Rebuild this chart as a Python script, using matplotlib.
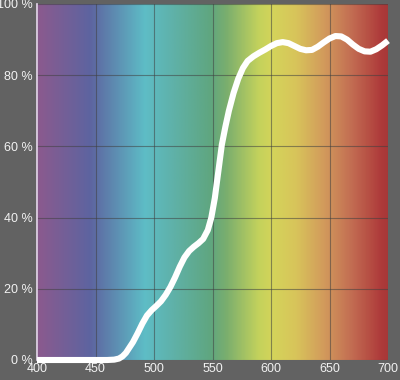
import numpy as np
import matplotlib
matplotlib.use("Agg")
import matplotlib.pyplot as plt
from matplotlib.colors import LinearSegmentedColormap

# Transmission curve (wavelength nm, percent)
wavelength = [400, 430, 460, 466, 470, 473, 476, 479, 482, 486, 490, 494, 498,
              502, 506, 510, 514, 518, 522, 526, 530, 534, 538, 542, 546, 549,
              552, 555, 558, 561, 564, 568, 572, 576, 580, 585, 590, 595, 600,
              605, 610, 615, 620, 625, 630, 635, 640, 645, 650, 655, 660, 665,
              670, 675, 680, 685, 690, 695, 700]
transmission = [0, 0, 0, 0.1, 0.4, 1, 2, 3.5, 5, 7.5, 10.2, 12.5, 14,
                15.2, 16.5, 18.3, 20.5, 23.2, 26.2, 28.8, 30.6, 31.8, 32.8, 34, 36.5, 40,
                45.5, 53, 60.5, 65.5, 70, 75, 79, 82, 84, 85.3, 86.3, 87.2, 88.2,
                89, 89.3, 89, 88.2, 87.4, 87, 87.1, 88, 89.2, 90.3, 91, 90.9, 90,
                88.6, 87.4, 86.7, 86.6, 87.3, 88.4, 89.7]

xticks = [400, 450, 500, 550, 600, 650, 700]
yticks = [0, 20, 40, 60, 80, 100]
ytick_labels = ["0 %", "20 %", "40 %", "60 %", "80 %", "100 %"]

# Spectrum colour stops (nm, colour)
spec_nm = [400, 445, 492, 512, 548, 562, 590, 602, 622, 646, 670, 695, 700]
spec_col = ["#8b5a8e", "#5d64a0", "#5ebdc6", "#5fb3ae", "#5fa680", "#7aae6e",
            "#c4d25c", "#d4d45a", "#d8c45a", "#d29a5c", "#c26c52", "#ae3a3a",
            "#a83838"]

bg = "#626262"
fig = plt.figure(figsize=(4.0, 3.8), dpi=100, facecolor=bg)
ax = fig.add_axes([37/400, 20/380, 351/400, 356/380])
ax.set_facecolor(bg)

stops = [(n - 400) / 300 for n in spec_nm]
cmap = LinearSegmentedColormap.from_list("spec", list(zip(stops, spec_col)))
grad = np.linspace(0, 1, 600)[None, :]
ax.imshow(grad, extent=[400, 700, 0, 100], aspect="auto", cmap=cmap,
          origin="lower", interpolation="bilinear", zorder=0)

ax.set_xlim(400, 700)
ax.set_ylim(0, 100)
ax.set_xticks(xticks)
ax.set_yticks(yticks)
ax.set_yticklabels(ytick_labels)
ax.grid(True, color="#404040", alpha=0.55, linewidth=0.8, zorder=1)

ax.plot(wavelength, transmission, color="white", linewidth=4.4,
        solid_joinstyle="round", solid_capstyle="butt", zorder=3, clip_on=False)

for s in ["top", "right", "bottom"]:
    ax.spines[s].set_visible(False)
ax.spines["left"].set_color("#e8d8ee")
ax.spines["left"].set_linewidth(1.2)

ax.tick_params(length=0, colors="#f2f2f2", labelsize=9, pad=3)
for lbl in ax.get_xticklabels() + ax.get_yticklabels():
    lbl.set_family(["Liberation Sans", "DejaVu Sans"])
ax.tick_params(axis="x", pad=2)

fig.savefig("out.png", dpi=100, facecolor=bg)
